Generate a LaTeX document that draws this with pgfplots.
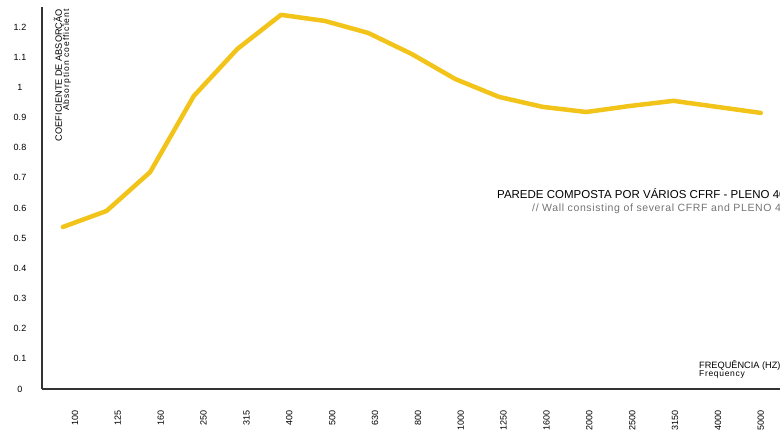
\documentclass[border=0pt]{standalone}
\usepackage{pgfplots}
\pgfplotsset{compat=1.18}
\usepackage{fontspec}
\setmainfont{Liberation Sans}
\usetikzlibrary{calc}
\definecolor{gold}{HTML}{F2C318}
\definecolor{axgray}{HTML}{333333}
\begin{document}
\begin{tikzpicture}
\begin{axis}[
  scale only axis,
  width=758pt, height=382pt,
  xmin=-0.48, xmax=16.9,
  ymin=0, ymax=1.266,
  axis x line*=bottom, axis y line*=left,
  axis line style={axgray, line width=1.6pt, -},
  major tick length=0pt,
  ytick={0,0.1,...,1.2},
  yticklabels={0,0.1,0.2,0.3,0.4,0.5,0.6,0.7,0.8,0.9,1,1.1,1.2},
  yticklabel style={font=\fontsize{9}{10}\selectfont, anchor=center, xshift=-22pt, text=black},
  xtick={0.275,1.258,2.241,3.224,4.207,5.190,6.173,7.156,8.139,9.122,10.105,11.088,12.071,13.054,14.037,15.020,16.003},
  xticklabels={100,125,160,250,315,400,500,630,800,1000,1250,1600,2000,2500,3150,4000,5000},
  xticklabel style={font=\fontsize{9}{10}\selectfont, inner sep=0pt, yshift=-21pt, rotate=90, anchor=east},
  clip=false,
]
\addplot[gold, line width=4.5pt, line join=round, line cap=round] coordinates {
(0,0.537) (1,0.590) (2,0.719) (3,0.971) (4,1.127) (5,1.240) (6,1.220) (7,1.180)
(8,1.110) (9,1.027) (10,0.968) (11,0.935) (12,0.918) (13,0.938) (14,0.955) (15,0.935) (16,0.915)
};
\coordinate (o) at (rel axis cs:0,0);
\end{axis}
% y label (rotated)
\node[rotate=90, anchor=south east, inner sep=0pt, font=\fontsize{9.2}{10}\selectfont]
  at ($(o)+(22pt,380pt)$) {COEFICIENTE DE ABSORÇÃO};
\node[rotate=90, anchor=south east, inner sep=0pt, font=\fontsize{8.5}{9}\selectfont\addfontfeature{LetterSpace=12}]
  at ($(o)+(29pt,380pt)$) {Absorption coefficient};
% title
\node[anchor=west, inner sep=0pt, font=\fontsize{11.5}{12}\selectfont] at ($(o)+(455pt,195pt)$) {PAREDE COMPOSTA POR VÁRIOS CFRF - PLENO 40};
\node[anchor=west, inner sep=0pt, text=black!55, font=\fontsize{10.5}{11}\selectfont\addfontfeature{LetterSpace=6}] at ($(o)+(490pt,180pt)$) {// Wall consisting of several CFRF and PLENO 40};
% x label
\node[anchor=west, inner sep=0pt, font=\fontsize{9.2}{10}\selectfont] at ($(o)+(657pt,24pt)$) {FREQUÊNCIA (HZ)};
\node[anchor=west, inner sep=0pt, font=\fontsize{8.5}{9}\selectfont\addfontfeature{LetterSpace=8}] at ($(o)+(657pt,15pt)$) {Frequency};
\pgfresetboundingbox
\path ($(o)+(-42pt,-40pt)$) rectangle ($(o)+(738pt,389pt)$);
\end{tikzpicture}
\end{document}
